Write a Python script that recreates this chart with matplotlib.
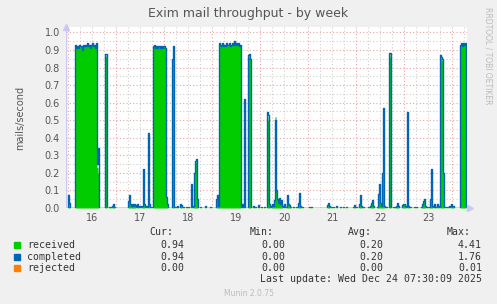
import matplotlib
matplotlib.use('Agg')
import matplotlib.pyplot as plt
from matplotlib.patches import Rectangle
import numpy as np

# time axis in days (label "16" = noon of Dec 16), one RRD step = 30 min
t_start = 15.458
t_end = 23.8125
step = 1.0 / 48

# long sending runs: start day and the per-step values
block_start = [15.64, 17.28, 18.65, 23.67]
block_vals = [
    [0.93, 0.91, 0.92, 0.91, 0.93, 0.92, 0.92, 0.90, 0.93, 0.92, 0.93,
     0.92, 0.94, 0.92, 0.93, 0.91, 0.93, 0.94, 0.92, 0.93, 0.91, 0.94],
    [0.92, 0.93, 0.91, 0.92, 0.91, 0.92, 0.92, 0.91, 0.92, 0.91, 0.92, 0.92, 0.91],
    [0.94, 0.93, 0.92, 0.94, 0.92, 0.93, 0.92, 0.94, 0.93, 0.93, 0.94,
     0.92, 0.93, 0.94, 0.93, 0.95, 0.93, 0.94, 0.93, 0.94, 0.92, 0.93],
    [0.93, 0.94, 0.92, 0.94, 0.93, 0.94],
]

# short bursts: time, received, completed
spike_t = [15.50, 15.52, 16.11, 16.13, 16.27, 16.29, 16.35, 16.38, 16.41, 16.44, 16.46,
           16.75, 16.77, 16.79, 16.81, 16.83, 16.85, 16.88, 16.90, 16.94, 16.96, 17.00,
           17.04, 17.07, 17.09, 17.12, 17.17, 17.19, 17.22, 17.55, 17.57, 17.64, 17.66,
           17.68, 17.73, 17.78, 17.83, 17.85, 17.90, 17.95, 18.00, 18.07, 18.10, 18.13,
           18.15, 18.17, 18.19, 18.25, 18.35, 18.45, 18.58, 18.60, 18.63, 19.12, 19.17,
           19.26, 19.28, 19.30, 19.35, 19.40, 19.46, 19.52, 19.58, 19.64, 19.66, 19.69,
           19.72, 19.75, 19.77, 19.79, 19.81, 19.83, 19.85, 19.87, 19.90, 19.92, 19.94,
           19.96, 20.00, 20.04, 20.06, 20.08, 20.10, 20.13, 20.19, 20.25, 20.29, 20.31,
           20.33, 20.38, 20.52, 20.56, 20.90, 20.92, 20.94, 20.98, 21.02, 21.08, 21.17,
           21.23, 21.29, 21.44, 21.46, 21.50, 21.56, 21.58, 21.60, 21.65, 21.75, 21.79,
           21.82, 21.84, 21.86, 21.94, 21.96, 21.98, 22.00, 22.02, 22.04, 22.06, 22.08,
           22.13, 22.19, 22.21, 22.27, 22.31, 22.34, 22.36, 22.38, 22.45, 22.48, 22.50,
           22.52, 22.56, 22.58, 22.62, 22.71, 22.75, 22.85, 22.88, 22.90, 22.92, 22.94,
           22.98, 23.02, 23.05, 23.07, 23.09, 23.13, 23.15, 23.19, 23.21, 23.26, 23.28,
           23.30, 23.32, 23.36, 23.40, 23.44, 23.47, 23.49, 23.52]
spike_rcv = [0.07, 0.03, 0.23, 0.20, 0.86, 0.87, 0.005, 0.005, 0.01, 0.02, 0.005,
             0.04, 0.07, 0.02, 0.01, 0.02, 0.01, 0.02, 0.015, 0.02, 0.01, 0.01,
             0.01, 0.20, 0.02, 0.01, 0.40, 0.02, 0.005, 0.06, 0.02, 0.0, 0.85,
             0.92, 0.005, 0.01, 0.02, 0.015, 0.005, 0.005, 0.005, 0.12, 0.01, 0.20,
             0.26, 0.27, 0.05, 0.005, 0.01, 0.005, 0.05, 0.07, 0.01, 0.02, 0.55,
             0.86, 0.87, 0.85, 0.01, 0.005, 0.015, 0.005, 0.005, 0.50, 0.52, 0.02,
             0.01, 0.025, 0.01, 0.045, 0.52, 0.10, 0.05, 0.03, 0.055, 0.02, 0.045,
             0.01, 0.02, 0.005, 0.07, 0.02, 0.015, 0.005, 0.005, 0.005, 0.03, 0.08,
             0.01, 0.005, 0.005, 0.005, 0.015, 0.03, 0.01, 0.005, 0.005, 0.01, 0.005,
             0.005, 0.005, 0.005, 0.015, 0.005, 0.02, 0.07, 0.01, 0.005, 0.005, 0.01,
             0.03, 0.045, 0.01, 0.005, 0.08, 0.12, 0.03, 0.01, 0.20, 0.50, 0.01,
             0.005, 0.86, 0.88, 0.005, 0.005, 0.01, 0.03, 0.01, 0.015, 0.025, 0.02,
             0.01, 0.50, 0.01, 0.005, 0.005, 0.005, 0.005, 0.02, 0.04, 0.05, 0.01,
             0.005, 0.005, 0.05, 0.20, 0.01, 0.02, 0.005, 0.02, 0.01, 0.85, 0.86,
             0.84, 0.20, 0.005, 0.005, 0.01, 0.025, 0.01, 0.01]
spike_cmp = [0.075, 0.03, 0.25, 0.34, 0.88, 0.88, 0.005, 0.005, 0.01, 0.02, 0.005,
             0.04, 0.075, 0.02, 0.01, 0.02, 0.01, 0.02, 0.015, 0.02, 0.01, 0.01,
             0.01, 0.22, 0.02, 0.01, 0.43, 0.02, 0.005, 0.06, 0.02, 0.0, 0.85,
             0.925, 0.005, 0.01, 0.02, 0.015, 0.005, 0.005, 0.005, 0.135, 0.01, 0.20,
             0.27, 0.28, 0.05, 0.005, 0.01, 0.005, 0.05, 0.074, 0.01, 0.02, 0.62,
             0.87, 0.88, 0.85, 0.01, 0.005, 0.015, 0.005, 0.005, 0.545, 0.53, 0.02,
             0.01, 0.025, 0.01, 0.045, 0.50, 0.10, 0.05, 0.03, 0.055, 0.02, 0.045,
             0.01, 0.02, 0.005, 0.074, 0.02, 0.015, 0.005, 0.005, 0.005, 0.03, 0.087,
             0.01, 0.005, 0.005, 0.005, 0.015, 0.03, 0.01, 0.005, 0.005, 0.01, 0.005,
             0.005, 0.005, 0.005, 0.015, 0.005, 0.02, 0.074, 0.01, 0.005, 0.005, 0.01,
             0.03, 0.046, 0.01, 0.005, 0.08, 0.135, 0.03, 0.01, 0.20, 0.57, 0.01,
             0.005, 0.885, 0.885, 0.005, 0.005, 0.01, 0.03, 0.01, 0.015, 0.025, 0.02,
             0.01, 0.545, 0.01, 0.005, 0.005, 0.005, 0.005, 0.02, 0.04, 0.05, 0.01,
             0.005, 0.005, 0.05, 0.22, 0.01, 0.02, 0.005, 0.02, 0.01, 0.87, 0.86,
             0.85, 0.20, 0.005, 0.005, 0.01, 0.025, 0.01, 0.01]

# legend table
series = ['received', 'completed', 'rejected']
colors = ['#00cc00', '#0066b3', '#ff8000']
cur = ['0.94', '0.94', '0.00']
mins = ['0.00', '0.00', '0.00']
avgs = ['0.20', '0.20', '0.00']
maxs = ['4.41', '1.76', '0.01']
day_labels = [16, 17, 18, 19, 20, 21, 22, 23]

# build the 30 min series
n = int(round((t_end - t_start) / step)) + 1
times = t_start + np.arange(n) * step
rcv = np.zeros(n)
cmp_ = np.zeros(n)
rej = np.zeros(n)
for s, vals in zip(block_start, block_vals):
    i0 = int(round((s - t_start) / step))
    rcv[i0:i0 + len(vals)] = vals
    cmp_[i0:i0 + len(vals)] = vals
for t, r, c in zip(spike_t, spike_rcv, spike_cmp):
    i = int(round((t - t_start) / step))
    rcv[i] = max(rcv[i], r)
    cmp_[i] = max(cmp_[i], c)

W, H = 497, 304
fig = plt.figure(figsize=(W / 100, H / 100), dpi=100, facecolor='#f0f0f0')
ax = fig.add_axes([66 / W, 1 - 208 / H, (467 - 66) / W, (208 - 27) / H])
ax.set_facecolor('white')

ax.fill_between(times, rcv, step='post', color='#00cc00', lw=0)
ax.plot(times, cmp_, drawstyle='steps-post', color='#0066b3', lw=1.0)
ax.plot(times, rej, drawstyle='steps-post', color='#ff8000', lw=1.0, alpha=0.6)

ax.set_xlim(t_start, t_end)
ax.set_ylim(0, 1.031)

# grid: red majors, grey minors
for y in np.arange(0.05, 1.01, 0.1):
    ax.axhline(y, color='#cfcfcf', lw=0.8, ls=(0, (1, 2)), zorder=0)
for y in np.arange(0.1, 1.01, 0.1):
    ax.axhline(y, color='#e8a4a4', lw=0.8, ls=(0, (1, 2)), zorder=0)
for d in np.arange(15.5, 23.9, 0.25):
    if abs(d - round(d - 0.5) - 0.5) < 1e-6:
        ax.axvline(d, color='#e8a4a4', lw=0.8, ls=(0, (1, 2)), zorder=0)
    else:
        ax.axvline(d, color='#cfcfcf', lw=0.8, ls=(0, (1, 2)), zorder=0)

for sp in ax.spines.values():
    sp.set_visible(False)
ax.axvline(t_start, color='#c8c8f0', lw=1.0)
ax.plot([0], [1.0], marker='^', ms=4, color='#c8c8f0', transform=ax.transAxes, clip_on=False)
ax.plot([1.008], [0], marker='>', ms=4, color='#c8c8f0', transform=ax.transAxes, clip_on=False)

ax.set_xticks(day_labels)
ax.set_xticklabels([str(d) for d in day_labels])
ax.set_yticks(np.arange(0, 1.01, 0.1))
ax.set_yticklabels(['%.1f' % v for v in np.arange(0, 1.01, 0.1)])
ax.tick_params(length=0, labelsize=7, labelcolor='#555555')
ax.tick_params(axis='y', pad=4.3)
ax.tick_params(axis='x', pad=3.5)
ax.set_ylabel('mails/second', fontsize=7, color='#555555', labelpad=14)

fig.text(248 / W, 1 - 13 / H, 'Exim mail throughput - by week', ha='center', va='center',
         fontsize=9, color='#555555')
fig.text(488 / W, 1 - 56 / H, 'RRDTOOL / TOBI OETIKER', rotation=270, ha='center', va='center',
         fontsize=5.5, color='#bbbbbb')

mono = dict(family='DejaVu Sans Mono', fontsize=7.1, color='#333333', va='center')
fig.text(149 / W, 1 - 232 / H, 'Cur:', ha='left', **mono)
fig.text(250 / W, 1 - 232 / H, 'Min:', ha='left', **mono)
fig.text(348 / W, 1 - 232 / H, 'Avg:', ha='left', **mono)
fig.text(447 / W, 1 - 232 / H, 'Max:', ha='left', **mono)
row_y = [245, 257, 268]
for name, col, c, mn, av, mx, y in zip(series, colors, cur, mins, avgs, maxs, row_y):
    fig.patches.append(Rectangle((14 / W, 1 - (y + 3) / H), 6 / W, 6 / H,
                                 transform=fig.transFigure, color=col))
    fig.text(27 / W, 1 - y / H, name, ha='left', **mono)
    fig.text(184 / W, 1 - y / H, c, ha='right', **mono)
    fig.text(285 / W, 1 - y / H, mn, ha='right', **mono)
    fig.text(383 / W, 1 - y / H, av, ha='right', **mono)
    fig.text(482 / W, 1 - y / H, mx, ha='right', **mono)
fig.text(482 / W, 1 - 279 / H, 'Last update: Wed Dec 24 07:30:09 2025', ha='right', **mono)
fig.text(249 / W, 1 - 294 / H, 'Munin 2.0.75', ha='center', va='center',
         fontsize=5.5, color='#bbbbbb')

fig.savefig('out.png', dpi=100, facecolor=fig.get_facecolor())
